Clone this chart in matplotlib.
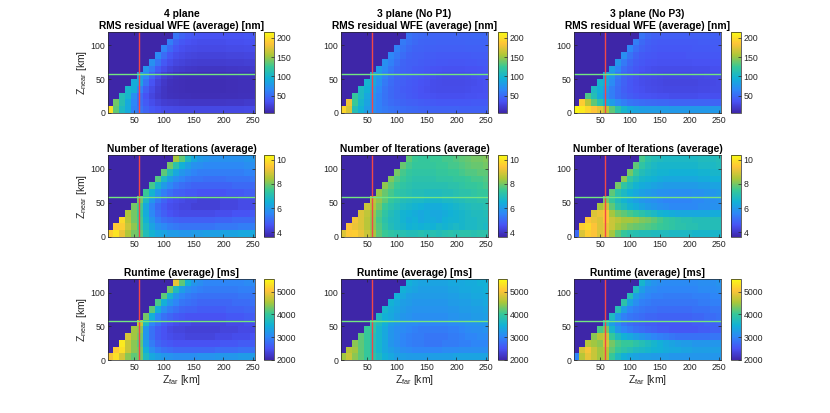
import numpy as np
import matplotlib
matplotlib.use('Agg')
from matplotlib import pyplot as plt
from matplotlib.colors import LinearSegmentedColormap

plt.rcParams['font.family'] = ['Liberation Sans', 'DejaVu Sans']
plt.rcParams['mathtext.fontset'] = 'custom'
plt.rcParams['mathtext.rm'] = 'Liberation Sans'

# grid: Z_far columns 10..250 km, Z_near rows 0..120 km (10 km bins)
z_far_edges = np.arange(5, 256, 10)
z_near_edges = np.arange(0, 121, 10)
z_cut = 58  # chosen operating point [km]

col_titles = ['4 plane', '3 plane (No P1)', '3 plane (No P3)']
row_titles = ['RMS residual WFE (average) [nm]',
              'Number of Iterations (average)',
              'Runtime (average) [ms]']
row_ranges = [(5, 215), (3.6, 10.4), (1990, 5560)]
row_ticks = [[50, 100, 150, 200], [4, 6, 8, 10], [2000, 3000, 4000, 5000]]

# each row lists only valid cells (Z_near < Z_far), bottom row first
wfe_4 = [
    [200, 135, 105, 90, 62, 55, 45, 38, 34, 31, 30, 29, 28, 28, 28, 28, 28, 28, 28, 28, 28, 28, 28, 29, 29],
    [140, 112, 90, 65, 50, 40, 32, 26, 22, 20, 19, 18, 17, 17, 17, 17, 17, 17, 17, 18, 18, 18, 19, 19],
    [110, 100, 70, 50, 36, 27, 20, 16, 14, 13, 12, 12, 11, 11, 11, 11, 11, 12, 12, 12, 13, 13, 14],
    [100, 92, 62, 42, 30, 22, 16, 13, 12, 11, 10, 10, 10, 10, 10, 10, 10, 11, 11, 12, 12, 13],
    [92, 85, 55, 36, 25, 18, 14, 12, 11, 10, 10, 10, 10, 10, 10, 10, 11, 11, 12, 12, 13],
    [80, 65, 44, 31, 22, 17, 14, 12, 11, 11, 11, 11, 11, 11, 11, 12, 12, 13, 13, 14],
    [75, 58, 40, 31, 25, 21, 19, 18, 17, 16, 16, 16, 16, 16, 17, 17, 18, 18, 19],
    [72, 54, 39, 32, 27, 25, 23, 22, 21, 21, 21, 21, 21, 22, 22, 22, 23, 23],
    [68, 50, 38, 32, 29, 27, 26, 25, 25, 25, 25, 25, 26, 26, 26, 27, 27],
    [64, 48, 38, 33, 31, 30, 29, 29, 29, 29, 29, 30, 30, 30, 31, 31],
    [60, 45, 38, 35, 33, 32, 32, 32, 32, 32, 33, 33, 33, 34, 34],
    [55, 45, 40, 37, 36, 35, 35, 35, 35, 36, 36, 36, 37, 37],
]
wfe_nop1 = [
    [195, 170, 110, 95, 80, 70, 62, 58, 55, 52, 50, 48, 47, 46, 45, 45, 44, 44, 44, 44, 43, 43, 43, 43, 43],
    [178, 125, 100, 85, 72, 62, 55, 50, 47, 45, 43, 42, 41, 40, 39, 38, 38, 38, 38, 38, 38, 39, 39, 39],
    [122, 105, 88, 74, 62, 54, 48, 44, 42, 40, 38, 36, 35, 34, 33, 33, 33, 33, 33, 34, 34, 35, 35],
    [105, 95, 80, 65, 55, 48, 44, 41, 39, 37, 35, 33, 32, 31, 31, 31, 31, 31, 32, 33, 33, 34],
    [98, 90, 72, 58, 50, 45, 42, 40, 38, 36, 34, 32, 31, 30, 30, 30, 30, 31, 32, 33, 34],
    [88, 78, 62, 52, 46, 43, 41, 39, 37, 35, 33, 32, 31, 31, 31, 31, 32, 33, 34, 35],
    [80, 68, 56, 48, 44, 42, 40, 39, 37, 36, 35, 34, 34, 34, 34, 35, 35, 36, 37],
    [72, 62, 52, 46, 43, 42, 41, 40, 39, 38, 38, 37, 37, 37, 38, 38, 39, 39],
    [66, 57, 50, 45, 43, 42, 41, 41, 40, 40, 40, 40, 40, 40, 41, 41, 41],
    [62, 54, 48, 45, 44, 43, 43, 42, 42, 42, 42, 42, 43, 43, 43, 43],
    [58, 52, 48, 46, 45, 45, 44, 44, 44, 44, 44, 45, 45, 45, 45],
    [55, 50, 48, 47, 46, 46, 46, 46, 46, 46, 46, 47, 47, 47],
]
wfe_nop3 = [
    [212, 205, 195, 185, 175, 160, 135, 115, 100, 90, 85, 82, 80, 80, 79, 79, 78, 78, 78, 78, 78, 78, 78, 78, 78],
    [190, 160, 135, 115, 95, 80, 68, 60, 55, 52, 50, 49, 48, 47, 47, 46, 46, 46, 46, 46, 46, 46, 46, 46],
    [130, 110, 90, 72, 60, 50, 45, 41, 38, 36, 35, 34, 33, 33, 32, 32, 32, 32, 32, 33, 33, 33, 33],
    [105, 95, 78, 60, 50, 42, 38, 35, 33, 31, 30, 29, 28, 28, 28, 28, 28, 28, 29, 29, 30, 30],
    [100, 90, 68, 52, 44, 38, 34, 32, 30, 29, 28, 27, 27, 27, 27, 27, 27, 28, 28, 29, 30],
    [90, 75, 56, 45, 39, 35, 32, 31, 30, 29, 28, 28, 28, 28, 28, 29, 29, 30, 30, 31],
    [82, 65, 50, 43, 38, 35, 33, 32, 31, 31, 31, 31, 31, 31, 32, 32, 32, 33, 33],
    [75, 58, 47, 41, 38, 36, 35, 34, 34, 34, 34, 34, 34, 35, 35, 35, 36, 36],
    [70, 54, 45, 40, 38, 37, 36, 36, 36, 36, 36, 37, 37, 37, 37, 38, 38],
    [65, 51, 44, 41, 39, 38, 38, 38, 38, 38, 38, 39, 39, 39, 40, 40],
    [60, 48, 43, 41, 40, 40, 40, 40, 40, 40, 40, 41, 41, 41, 41],
    [55, 47, 43, 42, 42, 42, 42, 42, 42, 42, 43, 43, 43, 43],
]

iter_4 = [
    [9.6, 10.0, 9.2, 8.5, 8.0, 7.8, 7.0, 6.6, 6.3, 6.2, 6.0, 6.0, 5.9, 5.9, 6.0, 6.0, 6.1, 6.1, 6.1, 6.2, 6.2, 6.2, 6.3, 6.3, 6.3],
    [9.5, 9.6, 8.8, 8.2, 7.6, 6.8, 6.2, 5.8, 5.6, 5.4, 5.3, 5.2, 5.2, 5.2, 5.2, 5.2, 5.2, 5.3, 5.3, 5.3, 5.3, 5.4, 5.4, 5.4],
    [9.8, 8.6, 8.0, 7.6, 6.6, 5.9, 5.4, 5.1, 5.0, 4.9, 4.8, 4.8, 4.8, 4.8, 4.8, 4.8, 4.9, 4.9, 4.9, 5.0, 5.0, 5.0, 5.0],
    [8.5, 8.0, 7.5, 6.4, 5.6, 5.1, 4.8, 4.6, 4.5, 4.4, 4.4, 4.4, 4.4, 4.4, 4.4, 4.5, 4.5, 4.5, 4.6, 4.6, 4.6, 4.7],
    [8.0, 7.6, 6.3, 5.5, 5.0, 4.7, 4.5, 4.4, 4.3, 4.3, 4.2, 4.2, 4.2, 4.2, 4.2, 4.3, 4.3, 4.3, 4.4, 4.4, 4.4],
    [8.0, 6.8, 5.9, 5.3, 4.9, 4.6, 4.5, 4.4, 4.3, 4.3, 4.2, 4.2, 4.2, 4.2, 4.3, 4.3, 4.3, 4.4, 4.4, 4.4],
    [7.5, 6.6, 5.9, 5.4, 5.1, 4.9, 4.8, 4.7, 4.7, 4.6, 4.6, 4.6, 4.6, 4.6, 4.7, 4.7, 4.7, 4.8, 4.8],
    [7.6, 6.7, 6.0, 5.6, 5.3, 5.1, 5.0, 4.9, 4.9, 4.9, 4.9, 4.9, 4.9, 4.9, 5.0, 5.0, 5.0, 5.0],
    [7.7, 6.8, 6.1, 5.7, 5.5, 5.3, 5.2, 5.2, 5.1, 5.1, 5.1, 5.1, 5.2, 5.2, 5.2, 5.2, 5.3],
    [7.8, 7.0, 6.3, 5.9, 5.7, 5.5, 5.4, 5.4, 5.4, 5.4, 5.4, 5.4, 5.4, 5.4, 5.5, 5.5],
    [8.0, 7.2, 6.5, 6.1, 5.8, 5.7, 5.6, 5.6, 5.6, 5.6, 5.6, 5.6, 5.6, 5.7, 5.7],
    [8.4, 7.8, 6.9, 6.3, 6.0, 5.9, 5.8, 5.8, 5.8, 5.8, 5.8, 5.8, 5.9, 5.9],
]
iter_nop1 = [
    [9.0, 9.5, 9.6, 9.2, 8.8, 8.4, 7.8, 7.5, 7.3, 7.2, 7.1, 7.0, 7.0, 7.1, 7.0, 7.1, 7.0, 7.1, 7.2, 7.1, 7.2, 7.2, 7.1, 7.2, 7.2],
    [9.4, 9.2, 9.0, 8.6, 8.2, 7.7, 7.3, 7.0, 6.8, 6.7, 6.5, 6.6, 6.5, 6.6, 6.5, 6.7, 6.6, 6.7, 6.8, 6.7, 6.8, 6.8, 6.9, 6.8],
    [9.3, 9.0, 8.6, 8.2, 7.6, 7.2, 6.9, 6.8, 6.6, 6.4, 6.5, 6.3, 6.4, 6.4, 6.3, 6.5, 6.6, 6.6, 6.7, 6.8, 6.8, 6.9, 6.9],
    [9.0, 8.7, 8.3, 7.7, 7.3, 7.0, 6.8, 6.6, 6.5, 6.4, 6.3, 6.4, 6.3, 6.3, 6.4, 6.5, 6.6, 6.7, 6.8, 6.9, 6.9, 7.0],
    [8.8, 8.5, 8.0, 7.5, 7.2, 7.0, 6.8, 6.7, 6.6, 6.5, 6.4, 6.4, 6.4, 6.5, 6.6, 6.7, 6.8, 6.9, 7.0, 7.0, 7.1],
    [8.6, 8.2, 7.8, 7.4, 7.2, 7.0, 6.9, 6.8, 6.8, 6.7, 6.7, 6.7, 6.8, 6.8, 6.9, 7.0, 7.1, 7.1, 7.2, 7.2],
    [8.3, 7.9, 7.6, 7.3, 7.2, 7.1, 7.0, 7.0, 6.9, 6.9, 6.9, 7.0, 7.0, 7.1, 7.2, 7.2, 7.3, 7.4, 7.4],
    [8.2, 7.8, 7.5, 7.3, 7.2, 7.1, 7.1, 7.1, 7.1, 7.1, 7.1, 7.2, 7.2, 7.3, 7.4, 7.4, 7.5, 7.6],
    [8.1, 7.7, 7.5, 7.3, 7.2, 7.2, 7.2, 7.2, 7.3, 7.3, 7.3, 7.4, 7.4, 7.5, 7.6, 7.6, 7.7],
    [8.0, 7.6, 7.4, 7.3, 7.3, 7.3, 7.3, 7.4, 7.4, 7.5, 7.5, 7.6, 7.7, 7.7, 7.8, 7.8],
    [7.9, 7.6, 7.4, 7.4, 7.4, 7.4, 7.5, 7.5, 7.6, 7.6, 7.7, 7.8, 7.9, 7.9, 8.0],
    [7.8, 7.5, 7.4, 7.4, 7.5, 7.5, 7.6, 7.6, 7.7, 7.8, 7.9, 8.0, 8.0, 8.1],
]
iter_nop3 = [
    [5.0, 9.0, 9.6, 9.4, 9.0, 9.2, 8.4, 7.8, 7.4, 7.2, 7.1, 7.0, 7.0, 6.9, 6.9, 6.9, 6.8, 6.8, 6.8, 6.8, 6.7, 6.7, 6.7, 6.7, 6.7],
    [9.6, 9.8, 9.4, 9.0, 9.2, 8.8, 8.4, 8.2, 8.0, 7.9, 7.8, 7.7, 7.6, 7.5, 7.4, 7.3, 7.2, 7.2, 7.1, 7.1, 7.0, 7.0, 7.0, 7.0],
    [9.4, 9.2, 9.0, 9.4, 8.8, 8.6, 8.4, 8.4, 8.3, 8.1, 8.0, 7.8, 7.6, 7.4, 7.3, 7.2, 7.1, 7.1, 7.0, 7.0, 7.0, 7.0, 7.0],
    [9.0, 9.2, 9.4, 8.4, 8.0, 7.8, 7.6, 7.4, 7.2, 7.0, 6.8, 6.6, 6.5, 6.4, 6.3, 6.3, 6.3, 6.3, 6.3, 6.3, 6.4, 6.4],
    [8.4, 8.8, 7.8, 7.2, 6.9, 6.6, 6.4, 6.2, 6.0, 5.9, 5.8, 5.7, 5.6, 5.6, 5.6, 5.6, 5.6, 5.7, 5.7, 5.8, 5.8],
    [8.0, 7.4, 6.9, 6.6, 6.3, 6.1, 5.9, 5.8, 5.7, 5.6, 5.5, 5.5, 5.5, 5.5, 5.5, 5.6, 5.6, 5.7, 5.7, 5.8],
    [7.8, 7.2, 6.8, 6.5, 6.3, 6.1, 6.0, 5.9, 5.8, 5.8, 5.7, 5.7, 5.7, 5.7, 5.8, 5.8, 5.9, 5.9, 6.0],
    [8.0, 7.3, 6.9, 6.6, 6.4, 6.3, 6.2, 6.1, 6.0, 6.0, 6.0, 6.0, 6.0, 6.0, 6.1, 6.1, 6.2, 6.2],
    [8.2, 7.4, 7.0, 6.7, 6.6, 6.5, 6.4, 6.3, 6.3, 6.3, 6.3, 6.3, 6.3, 6.4, 6.4, 6.5, 6.5],
    [8.0, 7.4, 7.0, 6.8, 6.7, 6.6, 6.6, 6.5, 6.5, 6.5, 6.5, 6.5, 6.6, 6.6, 6.7, 6.7],
    [7.8, 7.3, 7.0, 6.8, 6.7, 6.7, 6.7, 6.7, 6.7, 6.7, 6.7, 6.8, 6.8, 6.8, 6.9],
    [7.6, 7.2, 7.0, 6.9, 6.8, 6.8, 6.8, 6.8, 6.8, 6.8, 6.9, 6.9, 6.9, 7.0],
]

runtime_4 = [
    [5000, 5300, 4800, 4400, 4200, 4300, 3700, 3400, 3300, 3200, 3150, 3100, 3100, 3100, 3100, 3150, 3150, 3150, 3200, 3200, 3200, 3200, 3250, 3250, 3250],
    [5100, 5300, 4700, 4400, 4300, 3500, 3100, 2900, 2800, 2750, 2700, 2700, 2700, 2700, 2700, 2700, 2700, 2750, 2750, 2750, 2750, 2800, 2800, 2800],
    [5400, 4700, 4400, 4200, 3300, 2900, 2700, 2600, 2550, 2500, 2500, 2500, 2500, 2500, 2500, 2500, 2500, 2550, 2550, 2550, 2600, 2600, 2600],
    [4800, 4500, 4300, 3200, 2800, 2600, 2500, 2450, 2400, 2400, 2350, 2350, 2350, 2350, 2350, 2400, 2400, 2400, 2450, 2450, 2450, 2500],
    [4500, 4400, 3200, 2800, 2600, 2500, 2400, 2350, 2350, 2300, 2300, 2300, 2300, 2300, 2300, 2350, 2350, 2350, 2400, 2400, 2400],
    [4700, 3700, 3000, 2800, 2600, 2500, 2450, 2400, 2400, 2350, 2350, 2350, 2350, 2350, 2350, 2400, 2400, 2400, 2450, 2450],
    [4300, 3500, 3000, 2800, 2700, 2600, 2550, 2500, 2500, 2500, 2500, 2500, 2500, 2500, 2550, 2550, 2550, 2600, 2600],
    [4200, 3500, 3100, 2900, 2800, 2700, 2650, 2650, 2600, 2600, 2600, 2600, 2600, 2650, 2650, 2650, 2700, 2700],
    [4100, 3500, 3200, 3000, 2850, 2800, 2750, 2700, 2700, 2700, 2700, 2700, 2700, 2750, 2750, 2750, 2800],
    [4200, 3600, 3200, 3000, 2900, 2850, 2800, 2800, 2800, 2800, 2800, 2800, 2800, 2850, 2850, 2850],
    [4300, 3700, 3300, 3100, 3000, 2950, 2900, 2900, 2900, 2900, 2900, 2900, 2950, 2950, 2950],
    [4900, 4200, 3500, 3200, 3100, 3000, 3000, 3000, 3000, 3000, 3000, 3000, 3050, 3050],
]
runtime_nop1 = [
    [4500, 4700, 4400, 4200, 4000, 3900, 3700, 3500, 3400, 3300, 3300, 3250, 3250, 3250, 3250, 3300, 3300, 3300, 3300, 3350, 3350, 3350, 3350, 3350, 3350],
    [4600, 4500, 4200, 4000, 3800, 3600, 3400, 3300, 3200, 3100, 3050, 3000, 3000, 3000, 3000, 3000, 3050, 3050, 3050, 3100, 3100, 3100, 3100, 3100],
    [4400, 4200, 4000, 3800, 3600, 3400, 3200, 3100, 3000, 2950, 2900, 2900, 2850, 2850, 2850, 2900, 2900, 2900, 2950, 2950, 3000, 3000, 3000],
    [4200, 4000, 3800, 3600, 3400, 3200, 3100, 3000, 2950, 2900, 2900, 2850, 2850, 2850, 2850, 2900, 2900, 2950, 3000, 3000, 3050, 3050],
    [4000, 3900, 3600, 3400, 3200, 3100, 3050, 3000, 2950, 2900, 2900, 2900, 2900, 2900, 2950, 2950, 3000, 3050, 3100, 3100, 3150],
    [3900, 3700, 3500, 3300, 3200, 3100, 3050, 3050, 3000, 3000, 3000, 3000, 3000, 3050, 3050, 3100, 3150, 3150, 3200, 3200],
    [3700, 3500, 3400, 3300, 3200, 3150, 3100, 3100, 3100, 3100, 3100, 3100, 3150, 3150, 3200, 3200, 3250, 3250, 3300],
    [3600, 3450, 3350, 3250, 3200, 3150, 3150, 3150, 3150, 3150, 3150, 3200, 3200, 3250, 3250, 3300, 3300, 3350],
    [3550, 3400, 3300, 3250, 3200, 3200, 3200, 3200, 3200, 3200, 3250, 3250, 3300, 3300, 3350, 3350, 3400],
    [3500, 3400, 3300, 3250, 3250, 3250, 3250, 3250, 3250, 3300, 3300, 3350, 3350, 3400, 3400, 3450],
    [3500, 3400, 3350, 3300, 3300, 3300, 3300, 3300, 3350, 3350, 3400, 3400, 3450, 3450, 3500],
    [3500, 3400, 3350, 3350, 3350, 3350, 3350, 3400, 3400, 3400, 3450, 3450, 3500, 3500],
]
runtime_nop3 = [
    [3000, 4600, 4900, 4700, 4500, 4600, 4000, 3700, 3500, 3400, 3350, 3300, 3300, 3250, 3250, 3250, 3200, 3200, 3200, 3200, 3200, 3200, 3200, 3200, 3200],
    [4800, 5000, 4700, 4500, 4600, 4200, 4000, 3900, 3800, 3700, 3650, 3600, 3550, 3500, 3450, 3400, 3400, 3350, 3350, 3300, 3300, 3300, 3300, 3300],
    [4600, 4500, 4400, 4800, 4300, 4100, 4000, 4000, 3900, 3800, 3700, 3600, 3500, 3400, 3350, 3300, 3250, 3250, 3200, 3200, 3200, 3200, 3200],
    [4400, 4600, 4700, 4000, 3700, 3500, 3400, 3300, 3200, 3100, 3000, 2950, 2900, 2850, 2800, 2800, 2800, 2800, 2800, 2800, 2850, 2850],
    [4100, 4300, 3600, 3200, 3000, 2900, 2800, 2750, 2700, 2650, 2600, 2600, 2550, 2550, 2550, 2550, 2550, 2600, 2600, 2650, 2650],
    [3800, 3300, 3000, 2850, 2750, 2700, 2650, 2600, 2600, 2550, 2550, 2550, 2550, 2550, 2550, 2600, 2600, 2650, 2650, 2700],
    [3700, 3200, 2950, 2850, 2800, 2750, 2700, 2700, 2650, 2650, 2650, 2650, 2650, 2650, 2700, 2700, 2750, 2750, 2800],
    [3800, 3300, 3000, 2900, 2850, 2800, 2800, 2750, 2750, 2750, 2750, 2750, 2750, 2800, 2800, 2800, 2850, 2850],
    [3900, 3350, 3100, 2950, 2900, 2850, 2850, 2850, 2850, 2850, 2850, 2850, 2850, 2900, 2900, 2950, 2950],
    [3800, 3300, 3100, 3000, 2950, 2950, 2900, 2900, 2900, 2900, 2900, 2950, 2950, 2950, 3000, 3000],
    [3700, 3300, 3100, 3050, 3000, 3000, 3000, 3000, 3000, 3000, 3000, 3050, 3050, 3050, 3100],
    [3600, 3300, 3150, 3100, 3050, 3050, 3050, 3050, 3050, 3050, 3100, 3100, 3100, 3150],
]

panels = [[wfe_4, wfe_nop1, wfe_nop3],
          [iter_4, iter_nop1, iter_nop3],
          [runtime_4, runtime_nop1, runtime_nop3]]

n_cols = len(z_far_edges) - 1


def to_grid(rows):
    # left-pad each row with NaN where Z_near >= Z_far (no data)
    return np.array([[np.nan] * (n_cols - len(r)) + list(r) for r in rows], dtype=float)


parula = LinearSegmentedColormap.from_list('parula', [
    (0.2422, 0.1504, 0.6603), (0.2810, 0.3228, 0.9579), (0.1786, 0.5289, 0.9682),
    (0.0689, 0.6948, 0.8394), (0.2161, 0.7843, 0.5923), (0.6720, 0.7793, 0.2227),
    (0.9970, 0.7659, 0.2199), (0.9769, 0.9839, 0.0805)], N=256)
parula = parula.with_extremes(bad=parula(0.0))

W, H = 830, 413
ax_rows = [(32, 113), (155, 237), (279, 360)]
ax_cols = [(108, 255), (341, 488), (574, 721)]
cb_cols = [(264, 274), (498, 507), (731, 741)]
txt = '#262626'

fig = plt.figure(figsize=(W / 100, H / 100), dpi=100)

for r in range(3):
    top, bot = ax_rows[r]
    vmin, vmax = row_ranges[r]
    for c in range(3):
        l, rr = ax_cols[c]
        ax = fig.add_axes([l / W, 1 - bot / H, (rr - l) / W, (bot - top) / H])
        grid = to_grid(panels[r][c])
        mesh = ax.pcolormesh(z_far_edges, z_near_edges, grid, cmap=parula,
                             vmin=vmin, vmax=vmax, shading='flat')
        ax.set_facecolor(parula(0.0))
        ax.axvline(z_cut, color=(0.95, 0.28, 0.28), lw=1.0)
        ax.axhline(z_cut, color=(0.45, 0.9, 0.5), lw=1.0)
        ax.set_xlim(6, 253)
        ax.set_ylim(0, 120)
        ax.set_xticks([50, 100, 150, 200, 250])
        ax.set_yticks([0, 50, 100])
        ax.tick_params(direction='in', length=2, width=0.5, labelsize=6.3,
                       colors=txt, top=True, right=True, pad=2)
        for s in ax.spines.values():
            s.set_linewidth(0.5)
            s.set_color(txt)
        title = row_titles[r]
        if r == 0:
            title = col_titles[c] + '\n' + title
        ax.set_title(title, fontsize=7.4, fontweight='bold', pad=2.5,
                     linespacing=1.15, color='black')
        if c == 0:
            ax.set_ylabel(r'$\mathregular{Z_{near}}$ [km]', fontsize=7.5,
                          color=txt, labelpad=1)
        if r == 2:
            ax.set_xlabel(r'$\mathregular{Z_{far}}$ [km]', fontsize=7.5,
                          color=txt, labelpad=1)

        cl, cr = cb_cols[c]
        cax = fig.add_axes([cl / W, 1 - bot / H, (cr - cl) / W, (bot - top) / H])
        cb = fig.colorbar(mesh, cax=cax, ticks=row_ticks[r])
        cb.outline.set_linewidth(0.5)
        cb.outline.set_edgecolor(txt)
        cax.tick_params(direction='in', length=2, width=0.5, labelsize=6.3,
                        colors=txt, pad=2)

fig.savefig('out.png', dpi=100)
